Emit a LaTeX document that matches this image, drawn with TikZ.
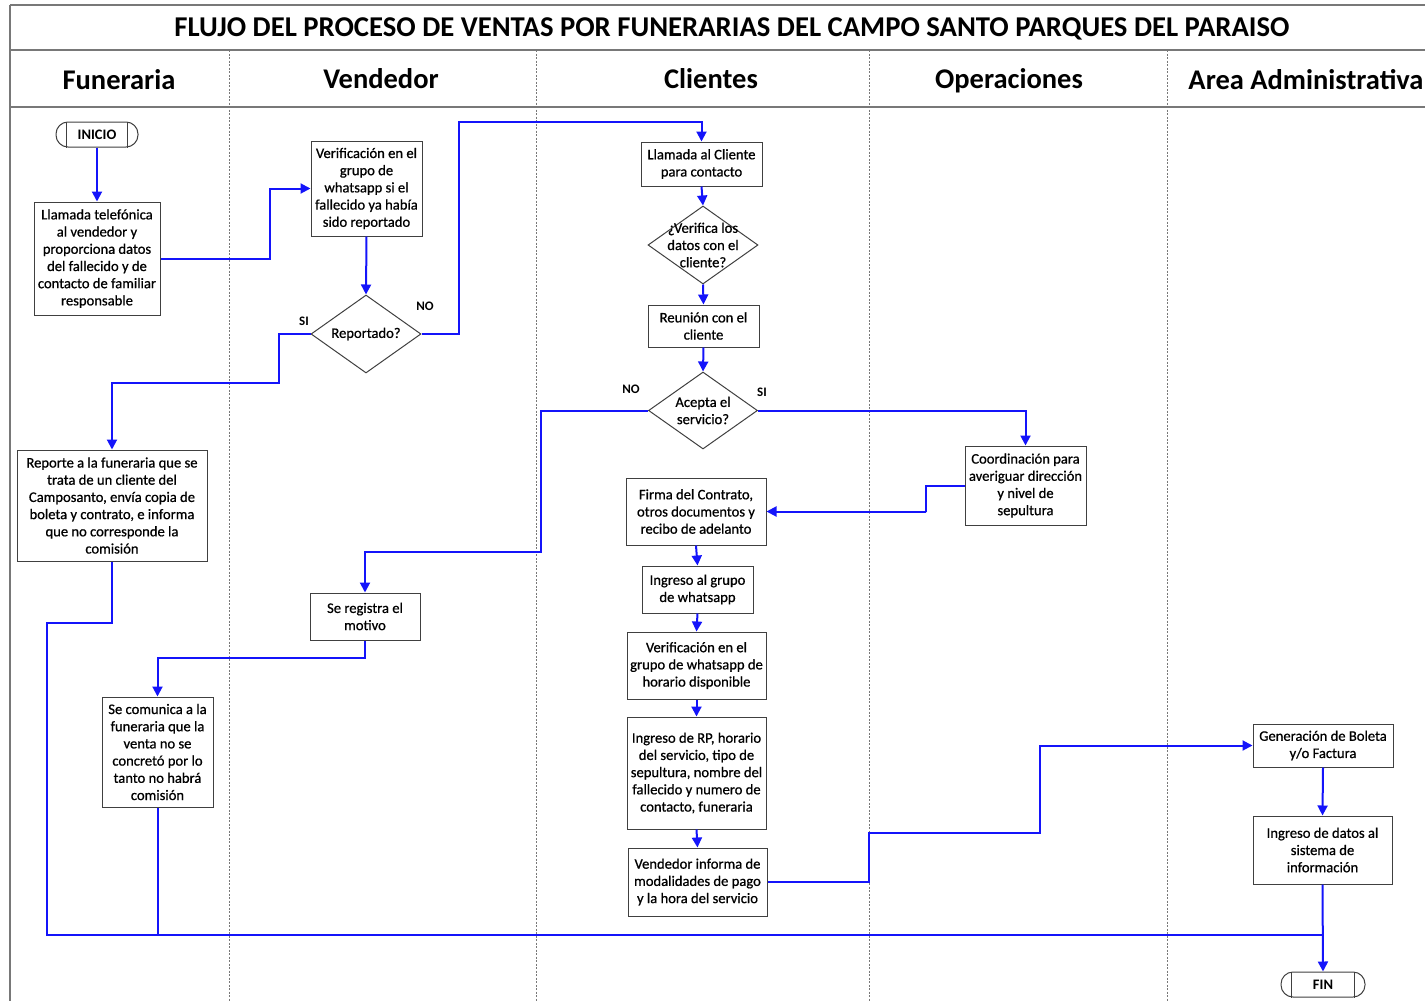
\documentclass[tikz,border=0pt]{standalone}
\usepackage{fontspec}
\setmainfont{Carlito}
\newfontfamily\boxfont{Carlito}[FakeBold=0.7]
\usetikzlibrary{shapes.geometric,arrows.meta,calc}
\definecolor{flowblue}{RGB}{20,20,250}
\definecolor{boxgray}{RGB}{64,64,64}
\definecolor{framegray}{RGB}{120,120,120}
\tikzset{
  box/.style={draw=boxgray, line width=1pt, fill=white, align=center, inner sep=1pt,
    font=\boxfont\fontsize{14.6}{17.2}\selectfont},
  decision/.style={diamond, draw=boxgray, line width=1pt, fill=white, inner sep=0pt},
  dtext/.style={align=center, inner sep=0pt, font=\boxfont\fontsize{14.6}{17.2}\selectfont},
  term/.style={draw=boxgray, line width=1pt, fill=white, rounded corners=12pt, align=center,
    minimum height=25pt, font=\bfseries\fontsize{14.5}{16}\selectfont},
  flow/.style={draw=flowblue, line width=2pt, -{Triangle[length=10pt,width=10pt]}},
  flowline/.style={draw=flowblue, line width=2pt},
  framel/.style={draw=framegray, line width=1.4pt},
  lane/.style={draw=framegray, line width=0.8pt, dash pattern=on 2pt off 1.5pt},
  hdr/.style={anchor=base, font=\bfseries\fontsize{28.5}{30}\selectfont},
  lbl/.style={font=\bfseries\fontsize{13}{14}\selectfont}
}
\begin{document}
\begin{tikzpicture}[x=1pt,y=-1pt]
\useasboundingbox (0,0) rectangle (1425,1001);
\clip (0,0) rectangle (1425,1001);
% frame
\draw[framel] (10,5) -- (1425,5);
\draw[framel] (10,50) -- (1425,50);
\draw[framel] (10,107) -- (1425,107);
\draw[framel] (10,5) -- (10,1001);
\foreach \xx in {229,536,869,1167} \draw[lane] (\xx,50) -- (\xx,1001);
% title and headers
\node[font=\bfseries\fontsize{28}{30}\selectfont] (title) at (732,29)
  {\resizebox{1115pt}{!}{FLUJO DEL PROCESO DE VENTAS POR FUNERARIAS DEL CAMPO SANTO PARQUES DEL PARAISO}};
\node[hdr] (h1) at (119,89) {Funeraria};
\node[hdr] (h2) at (381,88) {Vendedor};
\node[hdr] (h3) at (711,88) {Clientes};
\node[hdr] (h4) at (1009,88) {Operaciones};
\node[hdr] (h5) at (1306,89) {Area Administrativa};
% nodes
\node[term, minimum width=82pt] (ini) at (97,134.5) {INICIO};
\draw[boxgray, line width=1pt] ($(ini.north west)+(11,0)$) -- ($(ini.south west)+(11,0)$);
\draw[boxgray, line width=1pt] ($(ini.north east)+(-11,0)$) -- ($(ini.south east)+(-11,0)$);
\node[box, minimum width=126pt, minimum height=113pt] (b1) at (97,258.5)
  {Llamada telefónica\\al vendedor y\\proporciona datos\\del fallecido y de\\contacto de familiar\\responsable};
\node[box, minimum width=111pt, minimum height=95pt] (b2) at (366.5,188.5)
  {Verificación en el\\grupo de\\whatsapp si el\\fallecido ya había\\sido reportado};
\node[decision, minimum width=110pt, minimum height=78pt] (d1) at (366,334) {};
\node[dtext] (d1t) at (d1) {Reportado?};
\node[box, minimum width=121pt, minimum height=44pt] (c1) at (701.5,164) {Llamada al Cliente\\para contacto};
\node[decision, minimum width=110pt, minimum height=78pt] (d2) at (703,245) {};
\node[dtext] (d2t) at (d2) {¿Verifica los\\datos con el\\cliente?};
\node[box, minimum width=111pt, minimum height=42pt] (reu) at (703.5,326) {Reunión con el\\cliente};
\node[decision, minimum width=109pt, minimum height=77pt] (acc) at (703,410.5) {};
\node[dtext] (acct) at (acc) {Acepta el\\servicio?};
\node[box, minimum width=121pt, minimum height=79pt] (coord) at (1025.5,485.5)
  {Coordinación para\\averiguar dirección\\y nivel de\\sepultura};
\node[box, minimum width=140pt, minimum height=67pt] (firma) at (696,511.5)
  {Firma del Contrato,\\otros documentos y\\recibo de adelanto};
\node[box, minimum width=111pt, minimum height=47pt] (grupo) at (697.5,589.5) {Ingreso al grupo\\de whatsapp};
\node[box, minimum width=139pt, minimum height=67pt] (verhor) at (696.5,665.5)
  {Verificación en el\\grupo de whatsapp de\\horario disponible};
\node[box, minimum width=139pt, minimum height=112pt] (rp) at (696.5,773)
  {Ingreso de RP, horario\\del servicio, tipo de\\sepultura, nombre del\\fallecido y numero de\\contacto, funeraria};
\node[box, minimum width=139pt, minimum height=68pt] (vend) at (697.5,882)
  {Vendedor informa de\\modalidades de pago\\y la hora del servicio};
\node[box, minimum width=190pt, minimum height=111pt] (rep) at (112,505.5)
  {Reporte a la funeraria que se\\trata de un cliente del\\Camposanto, envía copia de\\boleta y contrato, e informa\\que no corresponde la\\comisión};
\node[box, minimum width=110pt, minimum height=47pt] (reg) at (365,616.5) {Se registra el\\motivo};
\node[box, minimum width=111pt, minimum height=110pt] (com) at (157.5,752)
  {Se comunica a la\\funeraria que la\\venta no se\\concretó por lo\\tanto no habrá\\comisión};
\node[box, minimum width=140pt, minimum height=43pt] (gen) at (1323,745.5) {Generación de Boleta\\y/o Factura};
\node[box, minimum width=139pt, minimum height=68pt] (datos) at (1322.5,850)
  {Ingreso de datos al\\sistema de\\información};
\node[term, minimum width=84pt] (fin) at (1323,984.5) {FIN};
\draw[boxgray, line width=1pt] ($(fin.north west)+(11,0)$) -- ($(fin.south west)+(11,0)$);
\draw[boxgray, line width=1pt] ($(fin.north east)+(-11,0)$) -- ($(fin.south east)+(-11,0)$);
% labels
\node[lbl] (si1) at (304,321) {SI};
\node[lbl] (no1) at (425,306) {NO};
\node[lbl] (no2) at (631,389) {NO};
\node[lbl] (si2) at (762,392) {SI};
% connectors
\draw[flow] (ini.south) -- (b1.north);
\draw[flow] (b1.east) -- ++(109,0) |- (b2.west);
\draw[flow] (b2.south) -- (d1.north);
\draw[flow] (d1.west) -| (279,383) -| (rep.north);
\draw[flow] (d1.east) -| (459,122) -| (c1.north);
\draw[flow] (c1.south) -- (d2.north);
\draw[flow] (d2.south) -- (reu.north);
\draw[flow] (reu.south) -- (acc.north);
\draw[flow] (acc.west) -| (541,552) -| (reg.north);
\draw[flow] (acc.east) -| (coord.north);
\draw[flow] (coord.west) -| (926,512) |- (firma.east);
\draw[flow] (firma.south) -- (grupo.north);
\draw[flow] (grupo.south) -- (verhor.north);
\draw[flow] (verhor.south) -- (rp.north);
\draw[flow] (rp.south) -- (vend.north);
\draw[flow] (vend.east) -| (869,833) -| (1040,746) |- (gen.west);
\draw[flow] (gen.south) -- (datos.north);
\draw[flow] (datos.south) -- (fin.north);
\draw[flow] (reg.south) -- ++(0,17) -| (com.north);
\coordinate (jn) at (1323,935);
\draw[flowline] (rep.south) -- ++(0,61) -| (47,935) -- (jn);
\draw[flowline] (com.south) -- (com.south |- jn);
\end{tikzpicture}
\end{document}
